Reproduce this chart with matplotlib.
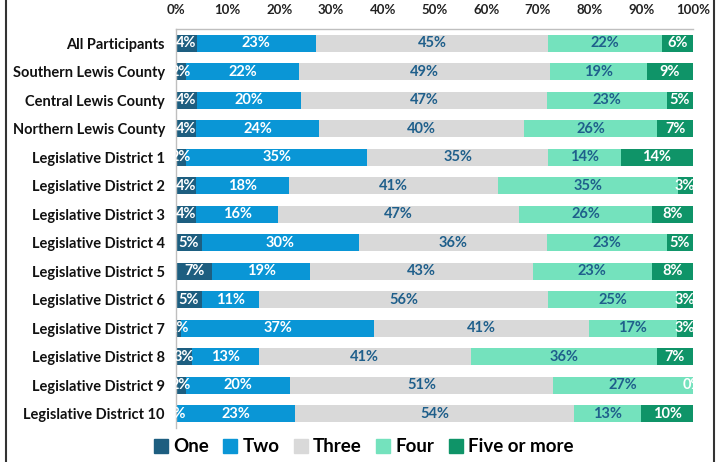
import matplotlib.pyplot as plt
from matplotlib.lines import Line2D
import numpy as np

plt.rcParams['font.family'] = ['Lato', 'DejaVu Sans']
plt.rcParams['font.weight'] = 'bold'

categories = ["All Participants", "Southern Lewis County", "Central Lewis County",
              "Northern Lewis County", "Legislative District 1", "Legislative District 2",
              "Legislative District 3", "Legislative District 4", "Legislative District 5",
              "Legislative District 6", "Legislative District 7", "Legislative District 8",
              "Legislative District 9", "Legislative District 10"]
one = [4, 2, 4, 4, 2, 4, 4, 5, 7, 5, 1, 3, 2, 0]
two = [23, 22, 20, 24, 35, 18, 16, 30, 19, 11, 37, 13, 20, 23]
three = [45, 49, 47, 40, 35, 41, 47, 36, 43, 56, 41, 41, 51, 54]
four = [22, 19, 23, 26, 14, 35, 26, 23, 23, 25, 17, 36, 27, 13]
five = [6, 9, 5, 7, 14, 3, 8, 5, 8, 3, 3, 7, 0, 10]

series_names = ["One", "Two", "Three", "Four", "Five or more"]
series_vals = [one, two, three, four, five]
colors = ["#1d5e80", "#0a96d6", "#d9d9d9", "#74e2bd", "#0f9468"]
label_colors = ["white", "white", "#1f5f8b", "#1f5f8b", "white"]

# rounded percentages don't always add to 100, scale bars so each row fills the axis
row_total = np.sum(np.array(series_vals, dtype=float), axis=0)

fig = plt.figure(figsize=(7.22, 4.62), dpi=100)
ax = fig.add_axes([176 / 722, 1 - 428 / 462, 517 / 722, 399 / 462])

y = np.arange(len(categories))
left = np.zeros(len(categories))
for name, vals, col, lcol in zip(series_names, series_vals, colors, label_colors):
    widths = np.array(vals, dtype=float) / row_total * 100
    ax.barh(y, widths, left=left, height=0.6, color=col, label=name)
    for yi, (l, w, v) in enumerate(zip(left, widths, vals)):
        ax.text(l + w / 2, yi, f"{v}%", ha='center', va='center',
                color=lcol, fontsize=10.5, fontweight='bold', clip_on=True)
    left += widths

ax.set_xlim(0, 100)
ax.set_ylim(len(categories) - 0.5, -0.5)
ax.set_yticks(y)
ax.set_yticklabels(categories, fontsize=10.5, fontweight='bold', color='#111111')
ax.set_xticks(np.arange(0, 101, 10))
ax.set_xticklabels([f"{t}%" for t in range(0, 101, 10)], fontsize=9.5,
                   fontweight='bold', color='#222222')
ax.xaxis.tick_top()
ax.tick_params(axis='both', length=0)
ax.tick_params(axis='x', pad=9)
ax.tick_params(axis='y', pad=8)
for s in ['right', 'bottom']:
    ax.spines[s].set_visible(False)
for s in ['top', 'left']:
    ax.spines[s].set_color('#bfbfbf')
    ax.spines[s].set_linewidth(1.0)

handles = [Line2D([], [], marker='s', linestyle='none', markersize=10,
                  markerfacecolor=c, markeredgecolor=c) for c in colors]
fig.legend(handles, series_names, loc='center', bbox_to_anchor=(364 / 722, 1 - 447 / 462),
           ncol=5, frameon=False, prop={'size': 13.5, 'weight': 'bold'},
           handlelength=0.7, handletextpad=0.3, columnspacing=0.8)

# frame lines at the figure sides
fig.add_artist(Line2D([6 / 722, 6 / 722], [0, 1], color='#333333', lw=1.5))
fig.add_artist(Line2D([714 / 722, 714 / 722], [0, 1], color='#333333', lw=1.5))

fig.savefig("out.png", dpi=100)
